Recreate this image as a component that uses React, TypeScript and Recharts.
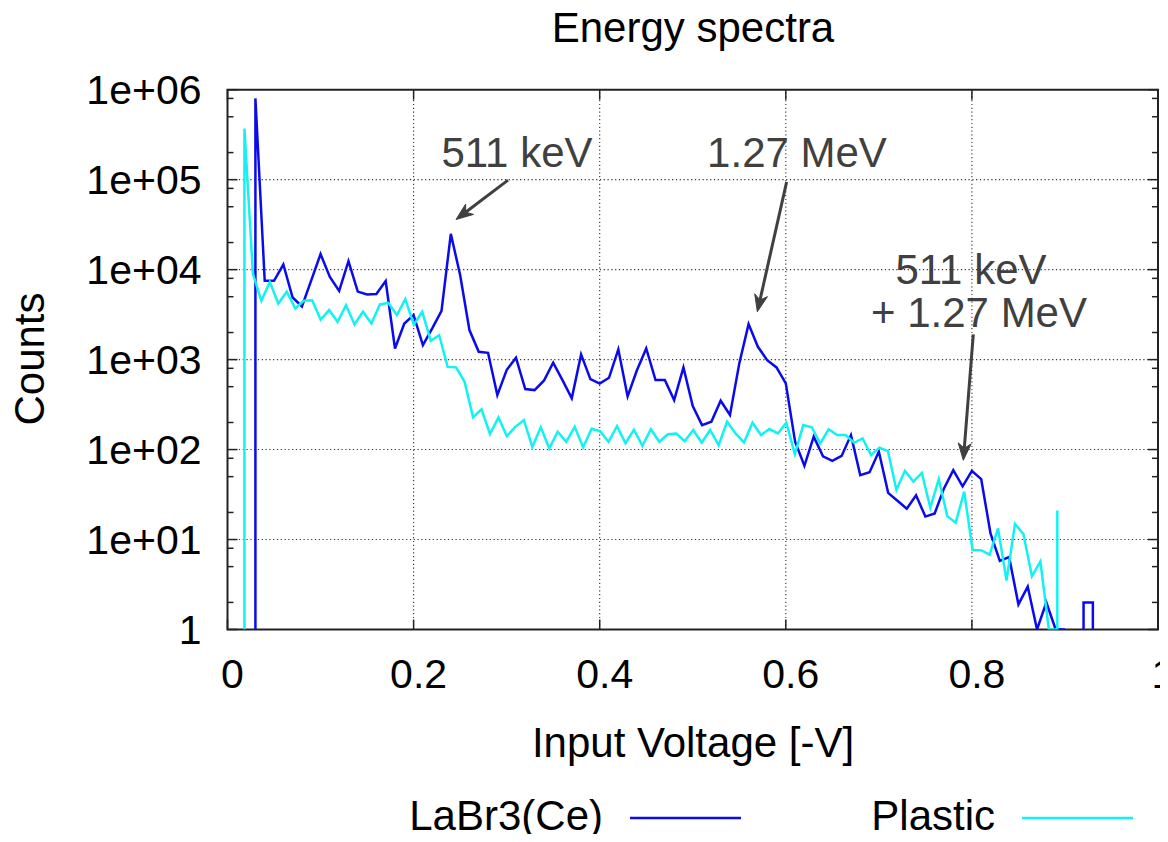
import React from "react";
import {
  LineChart,
  Line,
  XAxis,
  YAxis,
  ReferenceLine,
  ReferenceArea,
  Customized,
} from "recharts";

// LaBr3(Ce) spectrum, 0.01 V bins (repeated volts = vertical edges)
const LABR_VOLTS = [
  0.03, 0.03, 0.04, 0.05, 0.06, 0.07, 0.08, 0.09, 0.1, 0.11, 0.12, 0.13, 0.14,
  0.15, 0.16, 0.17, 0.18, 0.19, 0.2, 0.21, 0.22, 0.23, 0.24, 0.25, 0.26, 0.27,
  0.28, 0.29, 0.3, 0.31, 0.32, 0.33, 0.34, 0.35, 0.36, 0.37, 0.38, 0.39, 0.4,
  0.41, 0.42, 0.43, 0.44, 0.45, 0.46, 0.47, 0.48, 0.49, 0.5, 0.51, 0.52, 0.53,
  0.54, 0.55, 0.56, 0.57, 0.58, 0.59, 0.6, 0.61, 0.62, 0.63, 0.64, 0.65, 0.66,
  0.67, 0.68, 0.69, 0.7, 0.71, 0.72, 0.73, 0.74, 0.75, 0.76, 0.77, 0.78, 0.79,
  0.8, 0.81, 0.82, 0.83, 0.84, 0.85, 0.86, 0.87, 0.88, 0.89, 0.9, 0.91, 0.92,
  0.92, 0.93, 0.93,
];
const LABR_COUNTS = [
  1, 800000, 7500, 7500, 11400, 4900, 3900, 7600, 14900, 8300, 5800, 12400,
  5700, 5300, 5350, 7450, 1330, 2520, 3120, 1450, 2220, 3480, 25000, 8700, 2130,
  1220, 1190, 403, 765, 1050, 470, 458, 582, 922, 592, 371, 1143, 607, 540, 628,
  1300, 390, 760, 1330, 592, 592, 355, 819, 304, 187, 204, 349, 242, 907, 2480,
  1387, 987, 819, 544, 122, 66, 139, 84, 75, 85, 145, 52, 56, 95, 33, 27, 22,
  31, 18, 19.5, 37, 59, 39, 58, 47, 11.7, 5.8, 6.4, 1.9, 3, 1, 2, 1, 1, null, 1,
  2, 2, 1,
];

// Plastic spectrum, narrower bins
const PLASTIC_VOLTS = [
  0.0182, 0.0182, 0.0273, 0.0364, 0.0455, 0.0546, 0.0637, 0.0728, 0.0819,
  0.091, 0.1001, 0.1092, 0.1183, 0.1274, 0.1365, 0.1456, 0.1547, 0.1638,
  0.1729, 0.182, 0.1911, 0.2002, 0.2093, 0.2184, 0.2275, 0.2366, 0.2457,
  0.2548, 0.2639, 0.273, 0.2821, 0.2912, 0.3003, 0.3094, 0.3185, 0.3276,
  0.3367, 0.3458, 0.3549, 0.364, 0.3731, 0.3822, 0.3913, 0.4004, 0.4095,
  0.4186, 0.4277, 0.4368, 0.4459, 0.455, 0.4641, 0.4732, 0.4823, 0.4914,
  0.5005, 0.5096, 0.5187, 0.5278, 0.5369, 0.546, 0.5551, 0.5642, 0.5733,
  0.5824, 0.5915, 0.6006, 0.6097, 0.6188, 0.6279, 0.637, 0.6461, 0.6552,
  0.6643, 0.6734, 0.6825, 0.6916, 0.7007, 0.7098, 0.7189, 0.728, 0.7371,
  0.7462, 0.7553, 0.7644, 0.7735, 0.7826, 0.7917, 0.8008, 0.8099, 0.819,
  0.8281, 0.8372, 0.8463, 0.8554, 0.8645, 0.8736, 0.8827, 0.8918, 0.8918,
  0.8918,
];
const PLASTIC_COUNTS = [
  1, 370000, 9000, 4500, 7300, 4200, 5700, 3700, 4500, 4560, 2780, 3550, 2630,
  4030, 2460, 3400, 2520, 4100, 4280, 3120, 4700, 2450, 3400, 1620, 1870, 830,
  820, 566, 228, 280, 149, 228, 141, 179, 213, 107, 177, 103, 158, 122, 179,
  106, 170, 160, 122, 182, 118, 166, 110, 168, 122, 148, 151, 124, 165, 119,
  165, 112, 204, 151, 120, 199, 145, 169, 151, 199, 89, 187, 177, 117, 168, 145,
  145, 119, 133, 87, 105, 96, 35.5, 58, 44, 55, 22.6, 47, 18.2, 15.4, 34, 7.6,
  7.6, 6.8, 13.3, 3.5, 14.9, 11.5, 3.9, 5.7, 1, 1, 21, 1,
];

const X_TICKS = [0, 0.2, 0.4, 0.6, 0.8, 1];
const X_GRID = [0.2, 0.4, 0.6, 0.8];
const Y_DECADES = [1, 10, 100, 1000, 10000, 100000, 1000000];
const Y_MINOR = [
  2, 5, 8, 20, 50, 80, 200, 500, 800, 2000, 5000, 8000, 20000, 50000, 80000,
  200000, 500000, 800000,
];
const Y_TICKS = [...Y_DECADES, ...Y_MINOR].sort((a, b) => a - b);

// annotation arrows: [from, to] in data units
const ARROWS = [
  { from: { x: 0.3015, y: 98700 }, to: { x: 0.2456, y: 36100 } },
  { from: { x: 0.6009, y: 94600 }, to: { x: 0.5694, y: 3400 } },
  { from: { x: 0.8015, y: 1905 }, to: { x: 0.7908, y: 76 } },
];

const labrData = LABR_VOLTS.map((v, i) => ({ v, c: LABR_COUNTS[i] }));
const plasticData = PLASTIC_VOLTS.map((v, i) => ({ v, c: PLASTIC_COUNTS[i] }));

const W = 1168;
const H = 842;
const PLOT = { left: 227.5, right: 1158, top: 89.7, bottom: 629.5 };
const FONT = '"Liberation Sans", Arial, Helvetica, sans-serif';
const BLUE = "#0a0aec";
const CYAN = "#12f2f2";
const INK = "#222";
const NOTE = "#404040";
const GRID = { stroke: "#333", strokeWidth: 1.1, strokeDasharray: "1.2 2.6" };

function YTick(props: any) {
  const { y, payload } = props;
  const v = payload.value;
  const exp = Math.round(Math.log10(v));
  const major = Math.abs(Math.log10(v) - exp) < 1e-6;
  const len = major ? 10 : 6;
  const label = exp === 0 ? "1" : `1e+0${exp}`;
  return (
    <g>
      <line x1={PLOT.left} x2={PLOT.left + len} y1={y} y2={y} stroke={INK} strokeWidth={1.5} />
      <line x1={PLOT.right - len} x2={PLOT.right} y1={y} y2={y} stroke={INK} strokeWidth={1.5} />
      {major && (
        <text x={201.5} y={y} dy="0.36em" textAnchor="end" fontSize={41} fontFamily={FONT} fill="#000">
          {label}
        </text>
      )}
    </g>
  );
}

function XTick(props: any) {
  const { x, payload } = props;
  return (
    <g>
      <line x1={x} x2={x} y1={PLOT.bottom} y2={PLOT.bottom - 10} stroke={INK} strokeWidth={1.5} />
      <line x1={x} x2={x} y1={PLOT.top} y2={PLOT.top + 10} stroke={INK} strokeWidth={1.5} />
      <text x={x + 5} y={688} textAnchor="middle" fontSize={41} fontFamily={FONT} fill="#000">
        {String(payload.value)}
      </text>
    </g>
  );
}

function Arrow(props: any) {
  const { x1, y1, x2, y2 } = props;
  const dx = x2 - x1;
  const dy = y2 - y1;
  const d = Math.hypot(dx, dy) || 1;
  const ux = dx / d;
  const uy = dy / d;
  const hl = 17;
  const hw = 6.5;
  const bx = x2 - ux * hl;
  const by = y2 - uy * hl;
  const nx = x2 - ux * (hl - 5);
  const ny = y2 - uy * (hl - 5);
  const pts = [
    [x2, y2],
    [bx - uy * hw, by + ux * hw],
    [nx, ny],
    [bx + uy * hw, by - ux * hw],
  ]
    .map((p) => p.join(","))
    .join(" ");
  return (
    <g>
      <line x1={x1} y1={y1} x2={nx} y2={ny} stroke={NOTE} strokeWidth={3} />
      <polygon points={pts} fill={NOTE} stroke={NOTE} strokeWidth={1} strokeLinejoin="miter" />
    </g>
  );
}

function ChartText() {
  const t = { fontFamily: FONT, fontSize: 42 };
  return (
    <g>
      <text x={693} y={42} textAnchor="middle" fill="#000" {...t}>
        Energy spectra
      </text>
      <text x={44} y={359} textAnchor="middle" fill="#000" transform="rotate(-90 44 359)" {...t}>
        Counts
      </text>
      <text x={693} y={757} textAnchor="middle" fill="#000" {...t}>
        Input Voltage [-V]
      </text>

      <text x={517} y={167} textAnchor="middle" fill={NOTE} {...t}>
        511 keV
      </text>
      <text x={797} y={167} textAnchor="middle" fill={NOTE} {...t}>
        1.27 MeV
      </text>
      <text x={971} y={284} textAnchor="middle" fill={NOTE} {...t}>
        511 keV
      </text>
      <text x={979} y={327} textAnchor="middle" fill={NOTE} {...t}>
        + 1.27 MeV
      </text>

      <text x={603} y={830} textAnchor="end" fill="#000" {...t}>
        LaBr3(Ce)
      </text>
      <line x1={630} x2={741} y1={818} y2={818} stroke={BLUE} strokeWidth={2.5} />
      <text x={995} y={830} textAnchor="end" fill="#000" {...t}>
        Plastic
      </text>
      <line x1={1022} x2={1133} y1={818} y2={818} stroke={CYAN} strokeWidth={2.5} />
    </g>
  );
}

export default function App() {
  return (
    <div style={{ margin: -8, width: W, height: H, background: "#fff", overflow: "hidden" }}>
      <LineChart
        width={W}
        height={H}
        margin={{ top: PLOT.top, right: W - PLOT.right, bottom: 0, left: 0 }}
      >
        <XAxis
          dataKey="v"
          type="number"
          domain={[0, 1]}
          ticks={X_TICKS}
          interval={0}
          allowDataOverflow
          height={H - PLOT.bottom}
          axisLine={false}
          tickLine={false}
          tick={<XTick />}
        />
        <YAxis
          type="number"
          scale="log"
          domain={[1, 1000000]}
          ticks={Y_TICKS}
          interval={0}
          allowDataOverflow
          width={PLOT.left}
          axisLine={false}
          tickLine={false}
          tick={<YTick />}
        />
        {Y_DECADES.slice(1, -1).map((y) => (
          <ReferenceLine key={`gy${y}`} y={y} {...GRID} />
        ))}
        {X_GRID.map((x) => (
          <ReferenceLine key={`gx${x}`} x={x} {...GRID} />
        ))}
        <ReferenceArea x1={0} x2={1} y1={1} y2={1000000} fill="none" stroke={INK} strokeWidth={2} />
        <Line
          data={labrData}
          dataKey="c"
          type="linear"
          stroke={BLUE}
          strokeWidth={2.5}
          dot={false}
          isAnimationActive={false}
        />
        <Line
          data={plasticData}
          dataKey="c"
          type="linear"
          stroke={CYAN}
          strokeWidth={2.5}
          dot={false}
          isAnimationActive={false}
        />
        {ARROWS.map((a, i) => (
          <ReferenceLine key={`ar${i}`} segment={[a.from, a.to]} ifOverflow="visible" shape={Arrow} />
        ))}
        <Customized component={<ChartText />} />
      </LineChart>
    </div>
  );
}
